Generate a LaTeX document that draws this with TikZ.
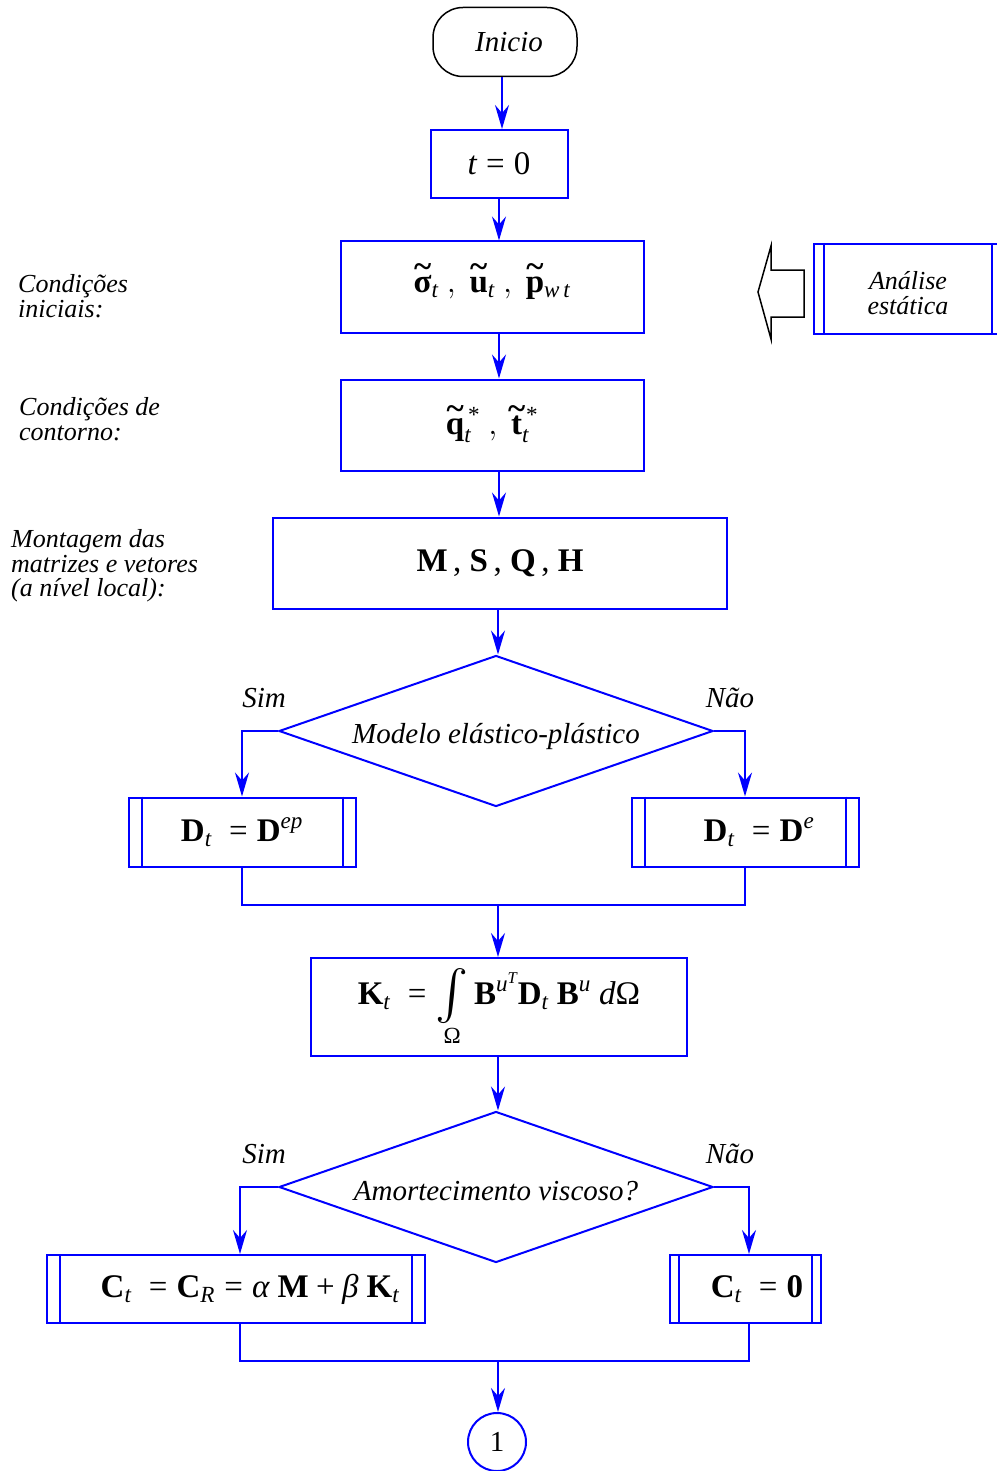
\RequirePackage{fix-cm}
\documentclass[tikz,border=0pt]{standalone}
\usepackage{amsmath}
\usepackage{fontspec}
\setmainfont{Liberation Serif}
\usetikzlibrary{shapes.geometric,arrows.meta}

\newcommand\notefont{\fontsize{26}{24.5}\selectfont\itshape}
\newcommand\capfont{\fontsize{29}{30}\selectfont\itshape}
\newcommand\formfont{\fontsize{33}{36}\selectfont}
\newcommand\bfl[1]{\text{\bfseries\upshape #1}}
\newcommand\tld[1]{\text{\ooalign{\bfseries\upshape #1\cr\hidewidth\raisebox{0.44em}{\bfseries\upshape\char"7E}\hidewidth\cr}}}
\newcommand\ix[1]{\text{\itshape\mdseries #1}}
\newcommand\eq{\mathrel{\text{=}}}
\newcommand\pl{\mathbin{\text{+}}}
\newcommand\bigint{\mathop{\vcenter{\hbox{\resizebox{!}{44pt}{$\int$}}}}}

\begin{document}
\begin{tikzpicture}[x=1pt,y=-1pt,
	flow/.style={blue, line width=2pt, -{Stealth[length=24pt,width=14pt,inset=8pt]}},
	wire/.style={blue, line width=2pt},
	box/.style={draw=blue, line width=2pt, inner sep=0pt, font=\formfont},
	start/.style={draw=black, line width=1.5pt, rounded corners=30pt, inner sep=0pt,
		minimum width=144pt, minimum height=69pt, font=\capfont},
	test/.style={diamond, draw=blue, line width=2pt, inner sep=0pt, aspect=2.87,
		minimum width=434pt, minimum height=151pt, font=\capfont},
	note/.style={anchor=west, align=left, inner sep=0pt, font=\notefont},
	ans/.style={font=\capfont},
	hollow/.style={draw=black, line width=1.5pt, fill=white}]

	\useasboundingbox (0,0) rectangle (996,1471);

	\node[start] (ini) at (505,42) {\hspace{8pt}Inicio};
	\node[box, minimum width=137pt, minimum height=68pt] (t0) at (499,164) {$\ix{t} \eq \text{0}$};
	\node[box, minimum width=303pt, minimum height=91pt] (sig) at (492,287)
		{$\tld{σ}_{\ix{t}}\ ,\ \tld{u}_{\ix{t}}\ ,\ \tld{p}_{\ix{w\,t}}$};
	\node[box, minimum width=303pt, minimum height=91pt] (q) at (492,425)
		{$\tld{q}^{\,\text{*}}_{\ix{t}}\ ,\ \tld{t}^{\,\text{*}}_{\ix{t}}$};
	\node[box, minimum width=454pt, minimum height=91pt] (mats) at (500,563)
		{\textbf{M}\,,\ \textbf{S}\,,\ \textbf{Q}\,,\ \textbf{H}};
	\node[test] (ep) at (496,731) {\raisebox{-6pt}[\height][\depth]{Modelo elástico-plástico}};
	\node[box, minimum width=227pt, minimum height=69pt] (dep) at (242,832)
		{$\bfl{D}_{\ix{t}}\ \eq \bfl{D}^{\ix{ep}}$};
	\node[box, minimum width=227pt, minimum height=69pt] (de) at (745,832)
		{\hspace{28pt}$\bfl{D}_{\ix{t}}\ \eq \bfl{D}^{\ix{e}}$};
	\node[box, minimum width=376pt, minimum height=98pt] (kt) at (499,1007)
		{$\bfl{K}_{\ix{t}}\ \eq \bigint\limits_{\text{Ω}}\bfl{B}^{\ix{u}^{\ix{T}}}\bfl{D}_{\ix{t}}\ \bfl{B}^{\ix{u}}\ \ix{d}\text{Ω}$};
	\node[test] (damp) at (496,1187) {\raisebox{-4pt}[\height][\depth]{Amortecimento viscoso?}};
	\node[box, minimum width=378pt, minimum height=68pt] (cr) at (236,1289)
		{\hspace{28pt}$\bfl{C}_{\ix{t}}\ \eq \bfl{C}_{\ix{R}} \eq \ix{α}\ \bfl{M} \pl \ix{β}\ \bfl{K}_{\ix{t}}$};
	\node[box, minimum width=151pt, minimum height=68pt] (cz) at (745,1289)
		{\hspace{24pt}$\bfl{C}_{\ix{t}}\ \eq \bfl{0}$};
	\node[circle, draw=blue, line width=2pt, minimum size=58pt, inner sep=0pt, font=\capfont\upshape] (one) at (497,1442) {1};

	\node[box, minimum width=188pt, minimum height=90pt, font=\notefont, align=center] (static) at (908,289)
		{\raisebox{-4pt}[\height][\depth]{Análise}\\\raisebox{-4pt}[\height][\depth]{estática}};

	\node[note] (lbl1) at (18,296) {Condições\\iniciais:};
	\node[note] (lbl2) at (19,419) {Condições de\\contorno:};
	\node[note] (lbl3) at (11,566) {Montagem das\\matrizes e vetores\\(a nível local):};

	\node[ans] (y1) at (264,698) {Sim};
	\node[ans] (n1) at (730,698) {Não};
	\node[ans] (y2) at (264,1154) {Sim};
	\node[ans] (n2) at (730,1154) {Não};

	% double sides of the predefined process boxes
	\foreach \nd/\gap in {dep/14,de/14,cr/14,cz/10,static/11} {
		\draw[wire] ([xshift=\gap pt]\nd.north west) -- ([xshift=\gap pt]\nd.south west);
		\draw[wire] ([xshift=-\gap pt]\nd.north east) -- ([xshift=-\gap pt]\nd.south east);
	}

	% hollow arrow from the static analysis
	\draw[hollow] ([xshift=-9pt]static.west) ++(0,-19) -- ++(-33,0) -- ++(0,-24)
		-- ++(-13,46) -- ++(13,47) -- ++(0,-22) -- ++(33,0) -- cycle;

	\coordinate (join1) at (498,905);
	\coordinate (join2) at (498,1361);

	\draw[flow] (ini.south -| 502,0) -- (t0.north -| 502,0);
	\draw[flow] (t0.south) -- (sig.north -| t0);
	\draw[flow] (sig.south -| t0) -- (q.north -| t0);
	\draw[flow] (q.south -| t0) -- (mats.north -| t0);
	\draw[flow] (mats.south -| join1) -- (ep.north -| join1);
	\draw[flow] (ep.west) -| (dep.north);
	\draw[flow] (ep.east) -| (de.north);
	\draw[wire] (dep.south) |- (join1) -| (de.south);
	\draw[flow] (join1) -- (kt.north -| join1);
	\draw[flow] (kt.south -| join1) -- (damp.north -| join1);
	\draw[flow] (damp.west) -| ([xshift=4pt]cr.north);
	\draw[flow] (damp.east) -| ([xshift=4pt]cz.north);
	\draw[wire] ([xshift=4pt]cr.south) |- (join2) -| ([xshift=4pt]cz.south);
	\draw[flow] (join2) -- (one.north -| join2);
\end{tikzpicture}
\end{document}
